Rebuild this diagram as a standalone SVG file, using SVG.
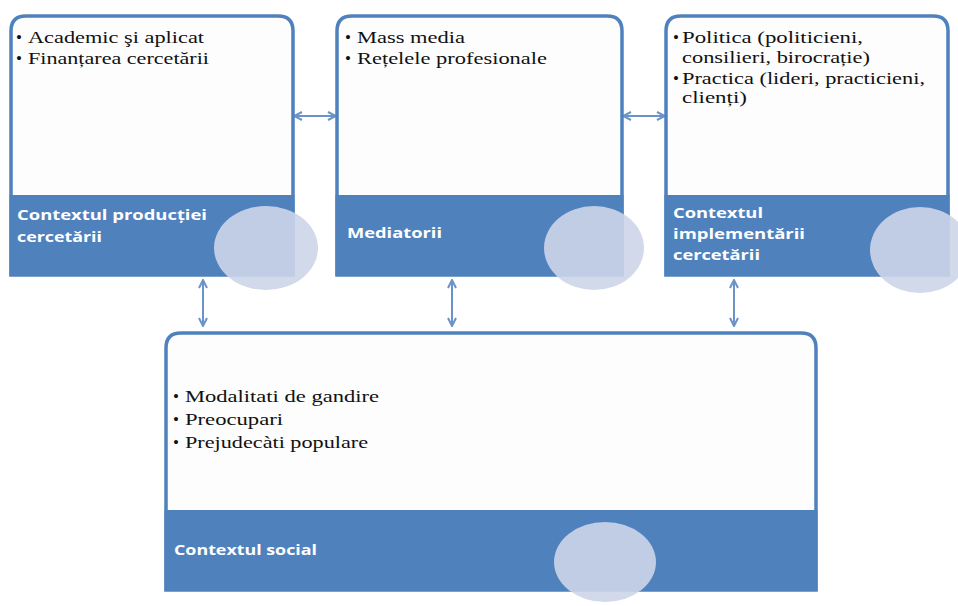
<svg xmlns="http://www.w3.org/2000/svg" width="958" height="606" viewBox="0 0 958 606">
<defs>
<style>
.box{fill:#fdfdfd;stroke:#4f81bd;stroke-width:3.5}
.band{fill:#4f81bd}
.circ{fill:#ccd5e8;opacity:0.9}
.b{font-family:"Liberation Serif","Times New Roman",serif;font-size:17px;fill:#111}
.t{font-family:"Open Sans","Liberation Sans",Arial,sans-serif;font-size:14px;font-weight:bold;fill:#ffffff}
.c{stroke:#6b93c9;stroke-width:2;fill:none}
</style>
<marker id="ah" viewBox="0 0 10 10" refX="9" refY="5" markerWidth="10" markerHeight="10" markerUnits="userSpaceOnUse" orient="auto-start-reverse">
<path d="M1,1 L9,5 L1,9" fill="none" stroke="#6b93c9" stroke-width="2"/>
</marker>
</defs>
<rect width="958" height="606" fill="#ffffff"/>

<g id="connectors">
<line class="c" x1="294" y1="116" x2="336" y2="116" marker-start="url(#ah)" marker-end="url(#ah)"/>
<line class="c" x1="623" y1="116" x2="665" y2="116" marker-start="url(#ah)" marker-end="url(#ah)"/>
<line class="c" x1="203" y1="280" x2="203" y2="326" marker-start="url(#ah)" marker-end="url(#ah)"/>
<line class="c" x1="452" y1="280" x2="452" y2="326" marker-start="url(#ah)" marker-end="url(#ah)"/>
<line class="c" x1="734" y1="280" x2="734" y2="326" marker-start="url(#ah)" marker-end="url(#ah)"/>
</g>

<g id="node-productie">
<path class="box" d="M11,275 V31 Q11,16 26,16 H278 Q293,16 293,31 V275 Z"/>
<rect class="band" x="9.5" y="195" width="285" height="81"/>
<ellipse class="circ" cx="266" cy="248" rx="52" ry="42"/>
<text class="b" x="16" y="43">•</text>
<text class="b" x="28" y="43" textLength="176" lengthAdjust="spacingAndGlyphs">Academic şi aplicat</text>
<text class="b" x="16" y="64">•</text>
<text class="b" x="28" y="64" textLength="181" lengthAdjust="spacingAndGlyphs">Finanțarea cercetării</text>
<text class="t" x="17" y="220" textLength="190" lengthAdjust="spacingAndGlyphs">Contextul producției</text>
<text class="t" x="17" y="242" textLength="85" lengthAdjust="spacingAndGlyphs">cercetării</text>
</g>

<g id="node-mediatori">
<path class="box" d="M337,275 V31 Q337,16 352,16 H607 Q622,16 622,31 V275 Z"/>
<rect class="band" x="335.5" y="195" width="288" height="81"/>
<ellipse class="circ" cx="594" cy="248" rx="50" ry="42"/>
<text class="b" x="345" y="43">•</text>
<text class="b" x="357" y="43" textLength="108" lengthAdjust="spacingAndGlyphs">Mass media</text>
<text class="b" x="345" y="64">•</text>
<text class="b" x="357" y="64" textLength="190" lengthAdjust="spacingAndGlyphs">Rețelele profesionale</text>
<text class="t" x="347" y="238" textLength="95" lengthAdjust="spacingAndGlyphs">Mediatorii</text>
</g>

<g id="node-implementare">
<path class="box" d="M666,275 V31 Q666,16 681,16 H933 Q948,16 948,31 V275 Z"/>
<rect class="band" x="664.5" y="195" width="285" height="81"/>
<ellipse class="circ" cx="920" cy="250" rx="50" ry="43"/>
<text class="b" x="673" y="43">•</text>
<text class="b" x="682" y="43" textLength="181" lengthAdjust="spacingAndGlyphs">Politica (politicieni,</text>
<text class="b" x="682" y="63" textLength="188" lengthAdjust="spacingAndGlyphs">consilieri, birocrație)</text>
<text class="b" x="673" y="84">•</text>
<text class="b" x="682" y="84" textLength="243" lengthAdjust="spacingAndGlyphs">Practica (lideri, practicieni,</text>
<text class="b" x="682" y="103" textLength="65" lengthAdjust="spacingAndGlyphs">clienți)</text>
<text class="t" x="673" y="218" textLength="90" lengthAdjust="spacingAndGlyphs">Contextul</text>
<text class="t" x="673" y="239" textLength="132" lengthAdjust="spacingAndGlyphs">implementării</text>
<text class="t" x="673" y="260" textLength="87" lengthAdjust="spacingAndGlyphs">cercetării</text>
</g>

<g id="node-social">
<path class="box" d="M166,590 V348 Q166,333 181,333 H801 Q816,333 816,348 V590 Z"/>
<rect class="band" x="164.5" y="510" width="653" height="81"/>
<ellipse class="circ" cx="605" cy="562" rx="51" ry="40"/>
<text class="b" x="173" y="402">•</text>
<text class="b" x="185" y="402" textLength="194" lengthAdjust="spacingAndGlyphs">Modalitati de gandire</text>
<text class="b" x="173" y="425">•</text>
<text class="b" x="185" y="425" textLength="98" lengthAdjust="spacingAndGlyphs">Preocupari</text>
<text class="b" x="173" y="448">•</text>
<text class="b" x="185" y="448" textLength="183" lengthAdjust="spacingAndGlyphs">Prejudecàti populare</text>
<text class="t" x="174" y="555" textLength="143" lengthAdjust="spacingAndGlyphs">Contextul social</text>
</g>
</svg>
